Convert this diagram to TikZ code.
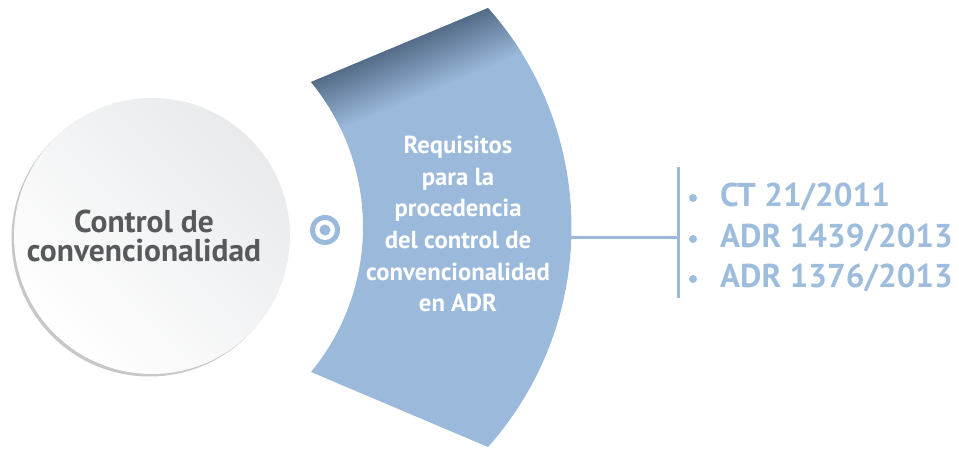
\documentclass[tikz,border=0pt]{standalone}
\usepackage{fontspec}
\setmainfont{PT Sans}
\usetikzlibrary{shadows}
\definecolor{bandblue}{HTML}{9AB9DB}
\definecolor{banddark}{HTML}{4E6580}
\definecolor{circgray}{HTML}{E8EAEC}
\definecolor{circmid}{HTML}{F9F9FA}
\definecolor{circshadow}{HTML}{C6C7C9}
\definecolor{textgray}{HTML}{58595B}
\definecolor{listblue}{HTML}{9EBCDC}

\begin{document}
\begin{tikzpicture}
  [x=1pt, y=1pt,
   listitem/.style={anchor=base west, text=listblue, inner sep=0pt,
     font=\bfseries\fontsize{33}{33}\selectfont}]
  \useasboundingbox (0,0) rectangle (959,449);
  \coordinate (bandTL) at (311,367);
  \coordinate (bandTR) at (488,441);
  \coordinate (bandBR) at (489,2);
  \coordinate (bandBL) at (311,77);
  \coordinate (bandR) at (571,211);
  \coordinate (barTop) at (678,282);
  \coordinate (barBot) at (678,151);

  \node[circle, minimum size=276, inner sep=0pt, top color=circgray, middle color=circmid,
    bottom color=white, shading angle=-45,
    drop shadow={shadow xshift=-2.5pt, shadow yshift=-2.5pt, fill=circshadow, opacity=1}]
    (control) at (152,213) {};
  \node[align=center, text=textgray, font=\bfseries\fontsize{31.5}{28.7}\selectfont]
    (controllabel) at ([xshift=-8]control.center) {Control de\\convencionalidad};

  \node[circle, fill=bandblue, minimum size=30, inner sep=0pt] (target) at (325,219) {};
  \fill[white] (target) circle (10);
  \fill[bandblue] (target) circle (5.5);

  \begin{scope}
    \clip (bandTL) -- (bandTR) arc[start angle=41.65, end angle=-41.65, radius=330.3]
      -- (bandBL) arc[start angle=-39.45, end angle=39.45, radius=228.2] -- cycle;
    \fill[bandblue] (300,0) rectangle (600,449);
    \begin{scope}[transform canvas={shift={(311,367)}, rotate=22.7}]
      \shade[top color=banddark, bottom color=bandblue] (-60,-55) rectangle (240,5);
    \end{scope}
  \end{scope}
  \node[align=center, text=white, font=\bfseries\fontsize{24.7}{31.6}\selectfont]
    (requisitos) at (458,225)
    {Requisitos\\para la\\procedencia\\del control de\\convencionalidad\\en ADR};

  \draw[bandblue, line width=3] (barTop) -- (barBot);
  \draw[bandblue, line width=3] (bandR) -- (bandR -| barTop);
  \foreach \y/\case [count=\i] in {242/{CT 21/2011}, 201/{ADR 1439/2013}, 161/{ADR 1376/2013}}
  {
    \node[listitem] (case\i) at (720,\y) {\case};
    \fill[listblue] (693,\y+9) circle (4);
  }
\end{tikzpicture}
\end{document}
